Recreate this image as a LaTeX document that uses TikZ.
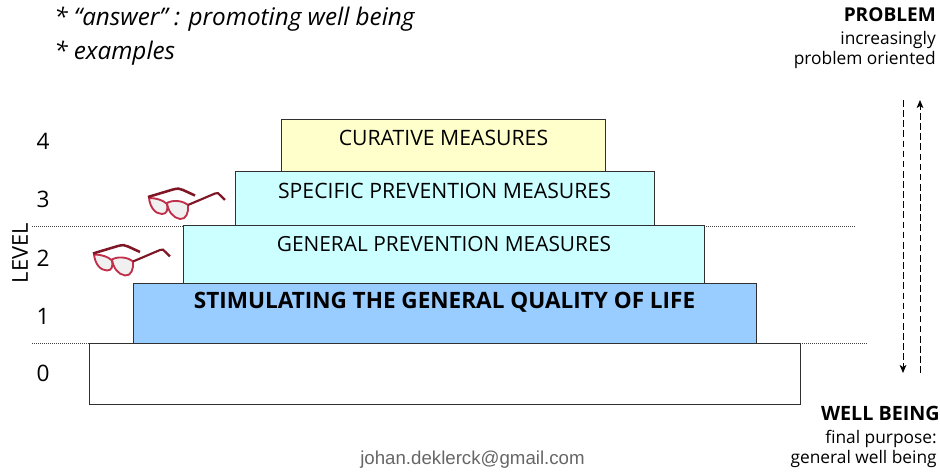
\documentclass[tikz,border=0pt]{standalone}
\usepackage{fontspec}
\usetikzlibrary{arrows.meta}
\setmainfont{Open Sans}
\newfontfamily\mailfont{Liberation Sans}
\definecolor{boxedge}{HTML}{303030}
\definecolor{frameA}{HTML}{C0304A}
\definecolor{frameB}{HTML}{7E1626}
\tikzset{
  tier/.style={draw=boxedge,line width=0.7pt,anchor=north west,inner sep=0pt},
  tiertext/.style={font=\fontsize{15.9}{18}\selectfont,text=black,inner sep=0pt},
  sidehead/.style={font=\fontsize{14.3}{17}\selectfont\bfseries,anchor=north east,inner sep=0pt},
  sidetext/.style={font=\fontsize{13}{15}\selectfont,anchor=north east,align=right,inner sep=0pt},
  lvl/.style={font=\fontsize{17}{20}\selectfont,inner sep=0pt},
  note/.style={font=\fontsize{18.2}{21}\selectfont\itshape,anchor=west,inner sep=0pt},
  guide/.style={densely dotted,line width=0.5pt,draw=black!75},
  flow/.style={dash pattern=on 5pt off 2.6pt,line width=0.6pt,-{Stealth[length=6pt,width=5pt,inset=1.5pt]}},
  glasses/.pic={
    \draw[frameA,line width=1.4pt,fill=black!6] (19,6) .. controls (24,3) and (34,3) .. (40,8) .. controls (41,15) and (38,23) .. (32,22) .. controls (25,21) and (20,14) .. (19,6) -- cycle;
    \draw[frameA,line width=1.4pt,fill=black!6] (1,1) .. controls (8,1) and (15,3) .. (19,7) .. controls (20,13) and (19,17) .. (14,17) .. controls (7,17) and (2,10) .. (1,1) -- cycle;
    \draw[frameB,line width=1.9pt] (0,0) -- (25,-7.5) .. controls (29,-8.5) and (32,-9) .. (35,-7) -- (47,-1.5);
    \draw[frameB,line width=1.6pt] (40,8) -- (67,-3.5) .. controls (69,-4.5) and (71,-4) .. (72,-2) -- (77,3);
  }
}
\begin{document}
\begin{tikzpicture}[x=0.75pt,y=-0.75pt]
\useasboundingbox (0,0) rectangle (940,473);

% dotted level guides
\coordinate (g1a) at (32,226); \coordinate (g1b) at (855,226);
\coordinate (g2a) at (32,343); \coordinate (g2b) at (867,343);
\draw[guide] (g1a) -- (g1b);
\draw[guide] (g2a) -- (g2b);

% tiers
\node[tier,fill=white,minimum width=533.25pt,minimum height=45.75pt] (base) at (88.5,343) {};
\node[tier,fill={rgb,255:red,153;green,204;blue,255},minimum width=467.25pt,minimum height=45pt] (stim) at (132.5,283) {};
\node[tier,fill={rgb,255:red,204;green,255;blue,255},minimum width=390.75pt,minimum height=43.5pt] (gen) at (183,225) {};
\node[tier,fill={rgb,255:red,204;green,255;blue,255},minimum width=314.25pt,minimum height=40.5pt] (spec) at (234.5,171) {};
\node[tier,fill={rgb,255:red,255;green,255;blue,204},minimum width=243pt,minimum height=39pt] (cur) at (280.5,119) {};

\node[tiertext] (curT) at (443.5,138) {CURATIVE MEASURES};
\node[tiertext] (specT) at (444.5,190.5) {SPECIFIC PREVENTION MEASURES};
\node[tiertext,font=\fontsize{15.65}{18}\selectfont] (genT) at (444,244.5) {GENERAL PREVENTION MEASURES};
\node[tiertext,font=\fontsize{16.9}{19}\selectfont\bfseries] (stimT) at (444.5,302.5) {STIMULATING THE GENERAL QUALITY OF LIFE};

% level numbers
\node[lvl] (l4) at (43,141) {4};
\node[lvl] (l3) at (43,199) {3};
\node[lvl] (l2) at (43,258) {2};
\node[lvl] (l1) at (43,316) {1};
\node[lvl] (l0) at (43,373) {0};
\node[lvl,font=\fontsize{16.4}{19}\selectfont,rotate=90] (lv) at (20,253) {LEVEL};

% top-left notes
\node[note] (n1) at (54,19) {* “answer” : promoting well being};
\node[note] (n2) at (54,53) {* examples};

% right text
\node[sidehead] (p1) at (936,7) {PROBLEM};
\node[sidetext] (p2) at (936,31) {increasingly\\[-0.3pt]problem oriented};
\node[sidehead,font=\fontsize{14.8}{17}\selectfont\bfseries] (w1) at (940,406) {WELL BEING};
\node[sidetext] (w2) at (937,430) {final purpose:\\[-0.3pt]general well being};

% footer
\node[font=\fontsize{14}{16}\selectfont\mailfont,text=black!60,inner sep=0pt] (mail) at (472.5,460) {johan.deklerck@gmail.com};

% arrows
\coordinate (dt) at (903,100); \coordinate (db) at (903,373);
\coordinate (ub) at (920,373); \coordinate (ut) at (920,100);
\draw[flow] (dt) -- (db);
\draw[flow] (ub) -- (ut);

% glasses
\pic at (148,197) {glasses};
\pic at (93,253.5) {glasses};
\end{tikzpicture}
\end{document}
